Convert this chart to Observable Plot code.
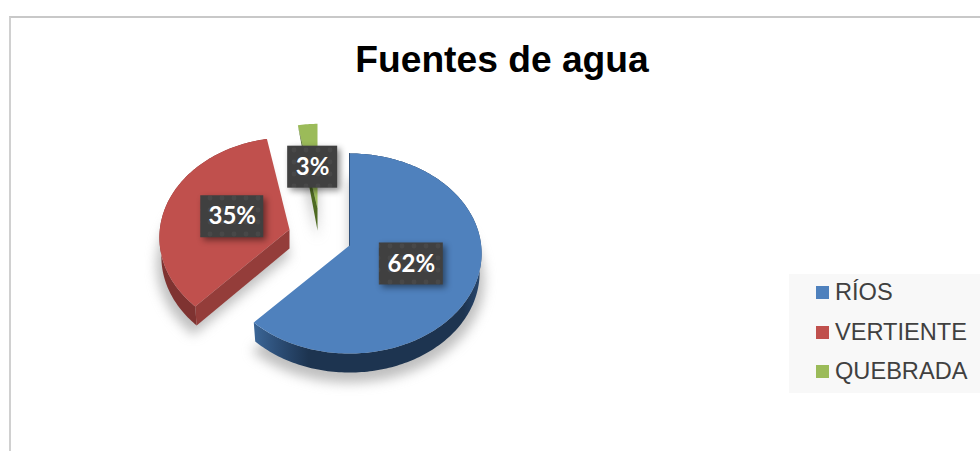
<!DOCTYPE html>
<html lang="es">
<head>
<meta charset="utf-8">
<title>Fuentes de agua</title>
<script src="https://cdn.jsdelivr.net/npm/d3@7"></script>
<script src="https://cdn.jsdelivr.net/npm/@observablehq/plot@0.6"></script>
<style>
  html, body { margin: 0; padding: 0; background: #fff; overflow: hidden; }
  #page { position: relative; width: 980px; height: 451px; }
  #page svg { position: absolute; left: 0; top: 0; }
  #frame { position: absolute; left: 9px; top: 16px; right: -4px; bottom: -4px;
           border-top: 2px solid #c8c8c8; border-left: 2px solid #d0d0d0; }
  h1 { position: absolute; left: 0; top: 37px; width: 1004px; margin: 0; text-align: center;
       font: bold 37.2px/44px "Liberation Sans", Arial, sans-serif; color: #000; }
  #legend { position: absolute; left: 789px; top: 274px; width: 191px; height: 119px; background: #f8f8f8;
            font: 23.6px/27px "Liberation Sans", Arial, sans-serif; color: #404040; }
  #legend div { position: absolute; left: 27px; white-space: nowrap; }
  #legend i { position: absolute; left: 0; top: 7px; width: 13px; height: 13px; }
  #legend span { position: absolute; left: 19px; top: 0; }
</style>
</head>
<body>
<div id="page"></div>
<script>
// Data
const categories = ["RÍOS", "VERTIENTE", "QUEBRADA"];
const percents = [62, 35, 3];

// Styling
const topColors = ["#4f81bd", "#c0504d", "#9bbb59"];
const wallFills = ["url(#blueWall)", "#7f3331", "#5f7a2c"];
const cutFills = ["#2f4f78", "#943d3a", "#4e6a22"];

// Projection of the tilted pie
const radiusX = 133, radiusY = 99.4, tilt = 0.08;
const slices = [
  {tipX: 349, tipY: 245, sx: 0.99, sy: 1, depth: 19, reach: 0.49},
  {tipX: 289, tipY: 229, sx: 0.975, sy: 1, depth: 19, reach: 0.47},
  {tipX: 317, tipY: 208, sx: 0.85, sy: 0.92, depth: 22, reach: 0.49}
];
const boxSizes = [[64, 42], [63, 42], [50, 42]];
const lowerShrink = 0.985;

const pie = d3.pie().sort(null).value(d => d)(percents);

function project(i, angle, lower = false) {
  const s = slices[i], w = 1 + tilt * Math.cos(angle);
  const k = lower ? lowerShrink : 1;
  return [
    s.tipX + k * s.sx * radiusX * Math.sin(angle) / w,
    s.tipY + (lower ? s.depth : 0) - s.sy * radiusY * Math.cos(angle) / w
  ];
}
function arcAngles(a, b) {
  const n = Math.max(4, Math.ceil((b - a) / 0.02));
  return d3.range(n + 1).map(j => a + (b - a) * j / n);
}
const row = (i, p) => ({name: categories[i], id: i, x: p[0], y: p[1]});

const topFaces = pie.flatMap((p, i) => [
  row(i, [slices[i].tipX, slices[i].tipY]),
  ...arcAngles(p.startAngle, p.endAngle).map(a => row(i, project(i, a)))
]);
const shadows = topFaces.map(d => {
  const s = slices[d.id];
  return {...d, x: s.tipX + (d.x - s.tipX) * 1.02, y: s.tipY + (d.y - s.tipY) * 1.02 + s.depth + 8};
});
const wall = i => {
  const as = arcAngles(pie[i].startAngle, pie[i].endAngle);
  return [...as.map(a => row(i, project(i, a))),
          ...as.slice().reverse().map(a => row(i, project(i, a, true)))];
};
const redCut = (() => {
  const a = pie[1].startAngle, s = slices[1];
  return [row(1, [s.tipX, s.tipY]), row(1, project(1, a)), row(1, project(1, a, true)), row(1, [s.tipX, s.tipY + s.depth])];
})();
const greenCut = (() => {
  const a = pie[2].startAngle, s = slices[2];
  return [row(2, project(2, a)), row(2, [s.tipX, s.tipY]), row(2, [s.tipX, s.tipY + s.depth])];
})();
const blueEdge = [row(0, [slices[0].tipX, slices[0].tipY]), row(0, project(0, pie[0].startAngle))];

const labels = pie.map((p, i) => {
  const mid = (p.startAngle + p.endAngle) / 2, s = slices[i];
  const [ox, oy] = project(i, mid);
  const x = s.tipX + (ox - s.tipX) * s.reach, y = s.tipY + (oy - s.tipY) * s.reach;
  const [bw, bh] = boxSizes[i];
  return {text: percents[i] + "%", x, y, x1: x - bw / 2, x2: x + bw / 2, y1: y - bh / 2, y2: y + bh / 2};
});

function defs() {
  const d = d3.create("svg:defs");
  const g = d.append("linearGradient").attr("id", "blueWall");
  [[0, "#3b6697"], [0.1, "#2d4f78"], [0.24, "#1d3450"], [0.92, "#1d3450"], [1, "#294870"]].forEach(([o, c]) =>
    g.append("stop").attr("offset", o).attr("stop-color", c));
  const p = d.append("pattern").attr("id", "dots").attr("patternUnits", "userSpaceOnUse")
    .attr("width", 12).attr("height", 12);
  p.append("rect").attr("width", 12).attr("height", 12).attr("fill", "#404040");
  p.append("circle").attr("cx", 6).attr("cy", 6).attr("r", 2.4).attr("fill", "#484848");
  return d.node();
}

const chart = Plot.plot({
  width: 980, height: 451, margin: 0,
  style: {background: "transparent"},
  x: {domain: [0, 980], range: [0, 980], axis: null},
  y: {domain: [0, 451], range: [0, 451], axis: null},
  color: {domain: categories, range: topColors},
  marks: [
    defs,
    Plot.line(shadows, {x: "x", y: "y", z: "id", fill: "#8a8a8a", fillOpacity: 0.55, stroke: "none", imageFilter: "blur(6px)"}),
    // green
    Plot.line(topFaces.filter(d => d.id === 2), {x: "x", y: "y", fill: "name", stroke: "none"}),
    Plot.line(greenCut, {x: "x", y: "y", fill: cutFills[2], stroke: "none"}),
    // red
    Plot.line(wall(1), {x: "x", y: "y", fill: wallFills[1], stroke: "none"}),
    Plot.line(redCut, {x: "x", y: "y", fill: cutFills[1], stroke: "none"}),
    Plot.line(topFaces.filter(d => d.id === 1), {x: "x", y: "y", fill: "name", stroke: "none"}),
    // blue
    Plot.line(wall(0), {x: "x", y: "y", fill: wallFills[0], stroke: "none"}),
    Plot.line(topFaces.filter(d => d.id === 0), {x: "x", y: "y", fill: "name", stroke: "none"}),
    Plot.line(blueEdge, {x: "x", y: "y", stroke: cutFills[0], strokeWidth: 1}),
    // labels
    Plot.rect(labels, {x1: "x1", x2: "x2", y1: "y1", y2: "y2", fill: "url(#dots)",
      imageFilter: "drop-shadow(3px 3px 3px rgba(0,0,0,0.45))"}),
    Plot.text(labels, {x: "x", y: "y", text: "text", fill: "#fff", fontSize: 24, fontWeight: "bold",
      fontFamily: "Lato, sans-serif"})
  ]
});

const page = document.getElementById("page");
page.append(chart);
const frame = document.createElement("div"); frame.id = "frame"; page.append(frame);
const h1 = document.createElement("h1"); h1.textContent = "Fuentes de agua"; page.append(h1);
const legend = document.createElement("div"); legend.id = "legend";
const legendTops = [5, 45, 84];
categories.forEach((c, i) => {
  const row = document.createElement("div"); row.style.top = legendTops[i] + "px";
  const sw = document.createElement("i"); sw.style.background = topColors[i];
  const tx = document.createElement("span"); tx.textContent = c;
  row.append(sw, tx); legend.append(row);
});
page.append(legend);
</script>
</body>
</html>
